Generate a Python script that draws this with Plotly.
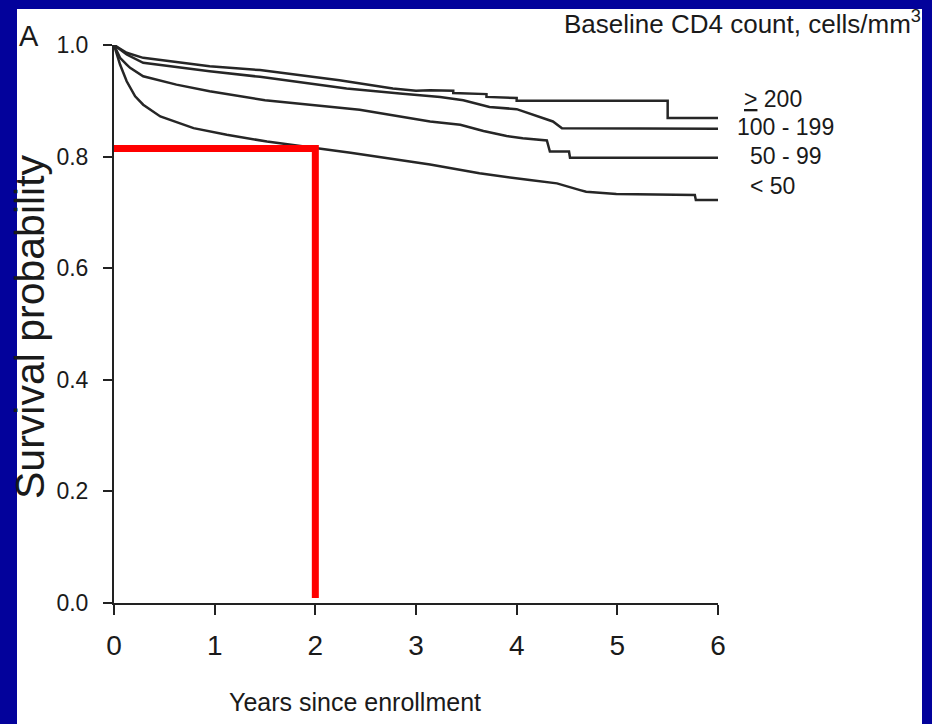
import plotly.graph_objects as go

# ---------------- data ----------------
years_ge200 = [0, 0.126, 0.29, 0.95, 1.45, 2.24, 2.77, 3.0, 3.14, 3.37, 3.37, 3.70, 3.70, 4.0, 4.0, 5.5, 5.5, 6.0]
surv_ge200 = [1.0, 0.986, 0.977, 0.962, 0.955, 0.937, 0.922, 0.918, 0.919, 0.918, 0.914, 0.912, 0.907, 0.905, 0.900, 0.900, 0.869, 0.869]

years_100_199 = [0, 0.126, 0.29, 0.95, 1.45, 2.31, 2.84, 3.24, 3.47, 3.73, 4.0, 4.13, 4.23, 4.36, 4.45, 6.0]
surv_100_199 = [1.0, 0.983, 0.968, 0.953, 0.943, 0.922, 0.913, 0.907, 0.901, 0.889, 0.885, 0.877, 0.870, 0.863, 0.851, 0.850]

years_50_99 = [0, 0.06, 0.126, 0.16, 0.29, 0.62, 0.95, 1.5, 2.44, 3.14, 3.44, 3.67, 3.90, 4.06, 4.30, 4.33, 4.52, 4.53, 6.0]
surv_50_99 = [1.0, 0.977, 0.965, 0.959, 0.944, 0.929, 0.917, 0.901, 0.884, 0.863, 0.857, 0.846, 0.837, 0.833, 0.829, 0.809, 0.809, 0.798, 0.798]

years_lt50 = [0, 0.06, 0.126, 0.21, 0.29, 0.46, 0.79, 1.12, 1.52, 2.05, 2.35, 3.14, 3.63, 4.13, 4.40, 4.63, 4.69, 4.99, 5.77, 5.78, 6.0]
surv_lt50 = [1.0, 0.965, 0.935, 0.908, 0.893, 0.872, 0.851, 0.839, 0.827, 0.814, 0.807, 0.786, 0.770, 0.758, 0.752, 0.740, 0.737, 0.733, 0.731, 0.722, 0.722]

series_labels = ["<u>></u> 200", "100 - 199", "50 - 99", "< 50"]

# red marker: reading at 2 years
red_x = [0, 2, 2]
red_y = [0.8143, 0.8143, 0.009]

x_ticks = [0, 1, 2, 3, 4, 5, 6]
y_ticks = [0.0, 0.2, 0.4, 0.6, 0.8, 1.0]
y_tick_text = ["0.0", "0.2", "0.4", "0.6", "0.8", "1.0"]

# ---------------- layout helpers ----------------
W, H = 932, 724
PL, PR, PT, PB = 114, 718, 45, 603


def px_x(p):
    return (p - PL) / (PR - PL)


def px_y(p):
    return (PB - p) / (PB - PT)


FONT = "Liberation Sans, Arial, sans-serif"
BLUE = "#03029B"
CURVE = "#262626"
TXT = "#1a1a1a"

fig = go.Figure()
curves = [
    (years_ge200, surv_ge200),
    (years_100_199, surv_100_199),
    (years_50_99, surv_50_99),
    (years_lt50, surv_lt50),
]
for (xs, ys), name in zip(curves, series_labels):
    fig.add_trace(go.Scatter(x=xs, y=ys, mode="lines", name=name,
                             line=dict(color=CURVE, width=2.5), showlegend=False,
                             hoverinfo="skip"))

fig.add_trace(go.Scatter(x=red_x, y=red_y, mode="lines",
                         line=dict(color="#FF0000", width=7), showlegend=False,
                         hoverinfo="skip"))

fig.update_layout(
    width=W, height=H,
    margin=dict(l=PL, r=W - PR, t=PT, b=H - PB, pad=0),
    paper_bgcolor=BLUE,
    plot_bgcolor="white",
    showlegend=False,
    xaxis=dict(range=[0, 6], tickvals=x_ticks, ticktext=[str(v) for v in x_ticks],
               showgrid=False, zeroline=False, showline=True, linecolor="#222",
               linewidth=2, ticks="outside", ticklen=10, tickwidth=2, tickcolor="#222",
               tickfont=dict(family=FONT, size=28, color=TXT),
               ticklabelstandoff=6),
    yaxis=dict(range=[0, 1.0], tickvals=y_ticks, ticktext=y_tick_text,
               showgrid=False, zeroline=False, showline=True, linecolor="#222",
               linewidth=2, ticks="outside", ticklen=9, tickwidth=2, tickcolor="#222",
               tickfont=dict(family=FONT, size=23, color=TXT),
               ticklabelstandoff=10),
)

# white slide panel inside the blue frame
fig.add_shape(type="rect", xref="paper", yref="paper",
              x0=px_x(17), x1=px_x(922), y0=px_y(740), y1=px_y(9),
              fillcolor="white", line=dict(width=0), layer="below")

ann = []
ann.append(dict(text="A", x=px_x(17), y=px_y(36), xanchor="left", yanchor="middle",
                font=dict(family=FONT, size=29, color=TXT)))
ann.append(dict(text="Baseline CD4 count, cells/mm<sup>3</sup>", x=px_x(923), y=px_y(23),
                xanchor="right", yanchor="middle",
                font=dict(family=FONT, size=26, color=TXT)))
label_pos = [(742, 99), (735, 127), (748, 156), (748, 186)]
for lab, (lx, ly) in zip(series_labels, label_pos):
    ann.append(dict(text=lab, x=px_x(lx), y=px_y(ly), xanchor="left", yanchor="middle",
                    font=dict(family=FONT, size=23, color=TXT)))
ann.append(dict(text="Survival probability", x=px_x(30), y=px_y(327), textangle=-90,
                xanchor="center", yanchor="middle",
                font=dict(family=FONT, size=41, color=TXT)))
ann.append(dict(text="Years since enrollment", x=px_x(355), y=px_y(702),
                xanchor="center", yanchor="middle",
                font=dict(family=FONT, size=25, color=TXT)))
for a in ann:
    a.update(xref="paper", yref="paper", showarrow=False)
fig.update_layout(annotations=ann)

fig.write_html("out.html")
